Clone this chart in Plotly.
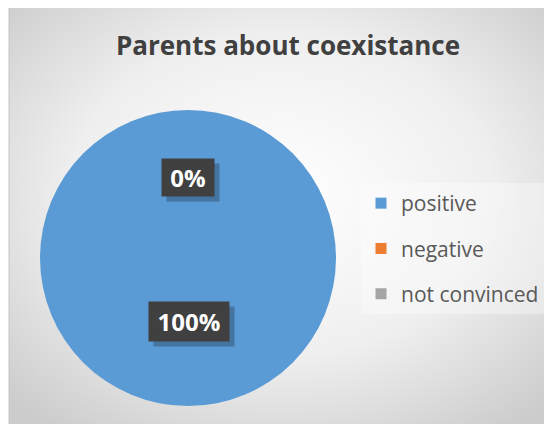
import base64

import plotly.graph_objects as go

# data
categories = ["positive", "negative", "not convinced"]
values = [100, 0, 0]
colors = ["#5B9BD5", "#ED7D31", "#A5A5A5"]
title_text = "Parents about coexistance"

total = sum(values)
pct_labels = [f"{v / total:.0%}" for v in values]

# the page puts an 8px body margin around the figure
W, H = 544, 416
OFF = 8


def px(x):
    return (x - OFF) / W


def py(y):
    return 1 - (y - OFF) / H


# soft radial gradient behind the chart, like the Excel chart style
bg_svg = """<svg xmlns='http://www.w3.org/2000/svg' width='544' height='416'>
<defs><radialGradient id='g' cx='50%' cy='45%' r='70%'>
<stop offset='0' stop-color='#ffffff'/><stop offset='0.55' stop-color='#efefef'/>
<stop offset='1' stop-color='#cccccc'/></radialGradient></defs>
<rect width='544' height='416' fill='url(#g)'/></svg>"""
bg_uri = "data:image/svg+xml;base64," + base64.b64encode(bg_svg.encode()).decode()

fig = go.Figure()

fig.add_trace(
    go.Pie(
        labels=categories,
        values=values,
        marker=dict(colors=colors, line=dict(color="white", width=0)),
        sort=False,
        direction="clockwise",
        rotation=0,
        textinfo="none",
        hoverinfo="label+percent",
        showlegend=False,
        domain=dict(x=[px(40), px(336)], y=[py(406), py(110)]),
    )
)

# legend entries (one group each so the spacing can be opened up)
for name, col in zip(categories, colors):
    fig.add_trace(
        go.Scatter(
            x=[None], y=[None], mode="markers", name=name, legendgroup=name,
            marker=dict(symbol="square", size=11, color=col),
        )
    )

# data labels: positive slice label below centre, the zero slices stacked on top
label_pos = [(px(189), py(321), 78, 37), (px(188), py(177), 50, 35)]
shown = [pct_labels[0], pct_labels[1]]
for txt, (lx, ly, bw, bh) in zip(shown, label_pos):
    fig.add_annotation(
        x=lx, y=ly, xref="paper", yref="paper", text="", showarrow=False,
        xanchor="center", yanchor="middle",
        width=bw, height=bh, bgcolor="rgba(0,0,0,0.25)", xshift=5, yshift=-5,
    )
    fig.add_annotation(
        x=lx, y=ly, xref="paper", yref="paper", text=f"<b>{txt}</b>",
        showarrow=False, xanchor="center", yanchor="middle",
        width=bw, height=bh, bgcolor="#404040",
        font=dict(family="Open Sans", size=24, color="white"),
    )

fig.update_layout(
    width=W,
    height=H,
    margin=dict(l=0, r=0, t=0, b=0),
    paper_bgcolor="white",
    plot_bgcolor="rgba(0,0,0,0)",
    title=dict(
        text=f"<b>{title_text}</b>", x=px(288), xanchor="center",
        y=py(46), yanchor="middle",
        font=dict(family="Open Sans", size=26, color="#404040"),
    ),
    xaxis=dict(visible=False),
    yaxis=dict(visible=False),
    legend=dict(
        x=px(361), y=py(183), xanchor="left", yanchor="top",
        bgcolor="rgba(255,255,255,0.35)", tracegroupgap=15,
        font=dict(family="Open Sans", size=21, color="#595959"),
    ),
    images=[
        dict(
            source=bg_uri, xref="paper", yref="paper", x=px(9), y=1,
            sizex=1, sizey=1, sizing="stretch",
            xanchor="left", yanchor="top", layer="below",
        )
    ],
    shapes=[
        dict(
            type="rect", xref="paper", yref="paper", x0=px(9), x1=1.01,
            y0=-0.01, y1=py(7.5), line=dict(color="#c4c4c4", width=1),
            layer="below",
        )
    ],
)

fig.write_html("out.html")
